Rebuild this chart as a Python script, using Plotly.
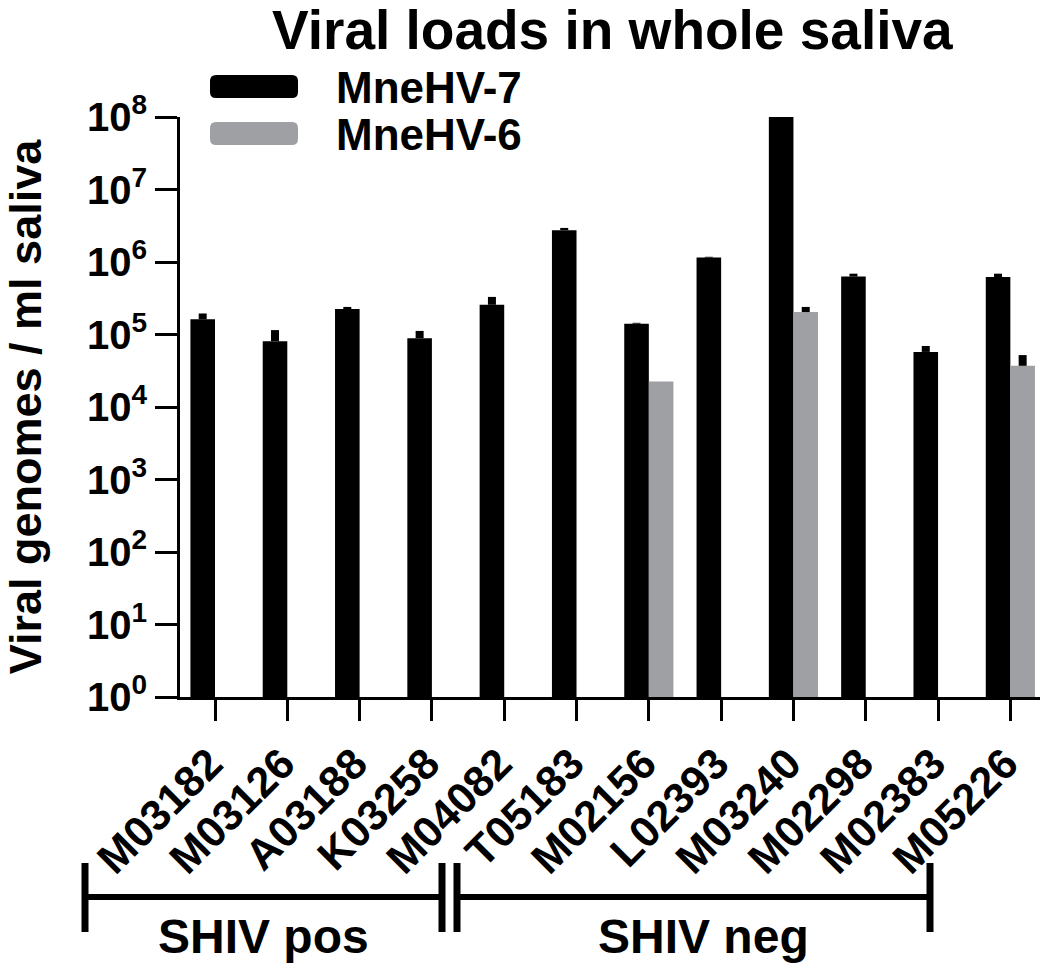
import plotly.graph_objects as go

# animals and the two virus series (genomes / ml saliva)
animals = ["M03182", "M03126", "A03188", "K03258", "M04082", "T05183",
           "M02156", "L02393", "M03240", "M02298", "M02383", "M05226"]
mne7 = [1.62e5, 8.1e4, 2.24e5, 8.9e4, 2.57e5, 2.75e6,
        1.41e5, 1.15e6, 1.0e8, 6.3e5, 5.75e4, 6.2e5]
mne7_err = [3.3e4, 3.4e4, 1.6e4, 2.3e4, 7.3e4, 2.0e5,
            4.0e3, 3.0e4, 0, 6.0e4, 1.2e4, 7.0e4]
mne6 = [None, None, None, None, None, None,
        2.24e4, None, 2.04e5, None, None, 3.7e4]
mne6_err = [0, 0, 0, 0, 0, 0, 0, 0, 3.6e4, 0, 0, 1.5e4]

ytick_vals = [10 ** i for i in range(9)]
ytick_text = ["10<sup>%d</sup>" % i for i in range(9)]

FONT = "Liberation Sans, Arial, sans-serif"
GREY = "#9fa0a4"

# plot area in pixels: x 180..1040, y 117..697
def px_x(x):
    return (x - 180) / 860

def px_y(y):
    return (697 - y) / 580


fig = go.Figure()
fig.add_trace(go.Bar(
    x=animals, y=mne7, name="MneHV-7", marker=dict(color="black", line=dict(width=0)),
    error_y=dict(type="data", array=mne7_err, arrayminus=[0] * 12, symmetric=False,
                 color="black", thickness=8, width=0),
    showlegend=False))
fig.add_trace(go.Bar(
    x=animals, y=mne6, name="MneHV-6", marker=dict(color=GREY, line=dict(width=0)),
    error_y=dict(type="data", array=mne6_err, arrayminus=[0] * 12, symmetric=False,
                 color="black", thickness=8, width=0),
    showlegend=False))

fig.update_layout(
    width=1050, height=970,
    margin=dict(l=180, r=10, t=117, b=273, pad=0),
    paper_bgcolor="white", plot_bgcolor="white",
    font=dict(family=FONT, color="black", size=36, weight="bold"),
    barmode="group", bargap=0.32, bargroupgap=0,
)

fig.update_xaxes(
    range=[-0.484, 11.41], showline=True, linecolor="black", linewidth=3,
    ticks="outside", ticklen=21, tickwidth=2.5, tickcolor="black",
    tickangle=-45, tickfont=dict(size=43, family=FONT, weight="bold"),
    ticklabelshift=-5,
    showgrid=False, zeroline=False,
)
fig.update_yaxes(
    type="log", range=[0, 8], showline=True, linecolor="black", linewidth=3,
    ticks="outside", ticklen=22, tickwidth=3, tickcolor="black",
    tickvals=ytick_vals, ticktext=ytick_text,
    tickfont=dict(size=40, family=FONT, weight="bold"),
    showgrid=False, zeroline=False,
    title=dict(text="Viral genomes / ml saliva", standoff=36,
               font=dict(size=45, family=FONT, weight="bold")),
)

# title
fig.add_annotation(text="Viral loads in whole saliva", xref="paper", yref="paper",
                   x=px_x(612), y=px_y(30), xanchor="center", yanchor="middle",
                   showarrow=False, font=dict(size=55, family=FONT, weight="bold"))

# legend drawn by hand: wide rounded swatches
def swatch(x0, y0, x1, y1, color):
    r = 6
    path = ("M {a},{b} L {c},{b} Q {x1},{b} {x1},{d} L {x1},{e} Q {x1},{f} {c},{f} "
            "L {a},{f} Q {x0},{f} {x0},{e} L {x0},{d} Q {x0},{b} {a},{b} Z").format(
        a=px_x(x0 + r), c=px_x(x1 - r), b=px_y(y0), d=px_y(y0 + r),
        e=px_y(y1 - r), f=px_y(y1), x0=px_x(x0), x1=px_x(x1))
    fig.add_shape(type="path", path=path, xref="paper", yref="paper",
                  fillcolor=color, line=dict(width=0))

swatch(210, 75, 298, 98, "black")
swatch(210, 122, 298, 145, GREY)
for lbl, yc in [("MneHV-7", 87), ("MneHV-6", 134)]:
    fig.add_annotation(text=lbl, xref="paper", yref="paper", x=px_x(334), y=px_y(yc),
                       xanchor="left", yanchor="middle", showarrow=False,
                       font=dict(size=44, family=FONT, weight="bold"))

# group brackets under the labels
def line(x0, y0, x1, y1, w):
    fig.add_shape(type="line", xref="paper", yref="paper",
                  x0=px_x(x0), y0=px_y(y0), x1=px_x(x1), y1=px_y(y1),
                  line=dict(color="black", width=w))

line(85, 897, 442, 897, 6)
line(457, 897, 930, 897, 6)
for xv in [85, 442, 457, 930]:
    line(xv, 863, xv, 932, 7)

for lbl, xc in [("SHIV pos", 263), ("SHIV neg", 703)]:
    fig.add_annotation(text=lbl, xref="paper", yref="paper", x=px_x(xc), y=px_y(936),
                       xanchor="center", yanchor="middle", showarrow=False,
                       font=dict(size=48, family=FONT, weight="bold"))

# page body has a default margin; drop it so the figure sits at the corner
fig.write_html("out.html", config={"displayModeBar": False},
               post_script="document.body.style.margin='0px';")
